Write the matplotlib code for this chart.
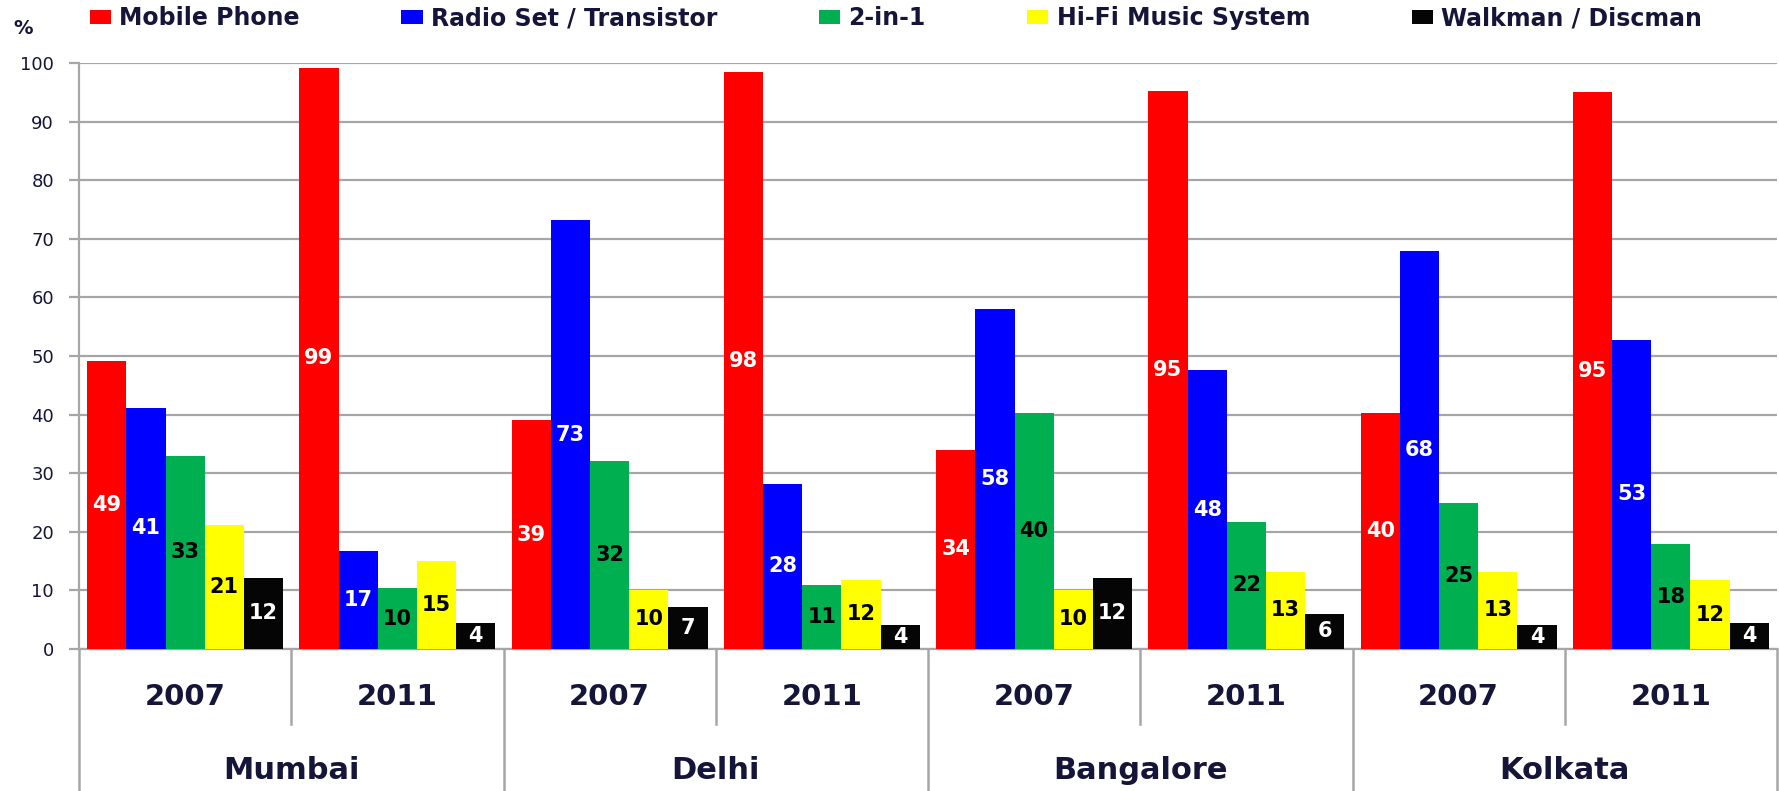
import numpy as np
import matplotlib
matplotlib.use("Agg")
import matplotlib.pyplot as plt
import matplotlib.transforms as mtransforms

# data (%)
cities = ["Mumbai", "Delhi", "Bangalore", "Kolkata"]
years = ["2007", "2011"]
series = ["Mobile Phone", "Radio Set / Transistor", "2-in-1",
          "Hi-Fi Music System", "Walkman / Discman"]
mobile = [49.1, 99.2, 39.0, 98.4, 34.0, 95.3, 40.2, 95.0]
radio = [41.2, 16.7, 73.2, 28.2, 58.1, 47.6, 68.0, 52.8]
two_in_one = [33.0, 10.4, 32.0, 10.9, 40.2, 21.7, 25.0, 17.9]
hifi = [21.2, 15.0, 10.1, 11.8, 10.1, 13.2, 13.2, 11.7]
walkman = [12.2, 4.4, 7.2, 4.1, 12.2, 6.0, 4.1, 4.4]

colors = ["#FF0000", "#0000FF", "#00B050", "#FFFF00", "#050505"]
label_colors = ["white", "white", "black", "black", "white"]
values = [mobile, radio, two_in_one, hifi, walkman]

grid_col = "#A6A6A6"
text_col = "#15153a"

fig = plt.figure(figsize=(17.79, 7.91), dpi=100)
ax = fig.add_axes([79 / 1779, 1 - 649 / 791, (1777 - 79) / 1779, (649 - 63) / 791])

n_groups = len(cities) * len(years)
x = np.arange(n_groups)
w = 0.1847

handles = []
for i, (name, vals) in enumerate(zip(series, values)):
    bars = ax.bar(x + (i - 2) * w, vals, width=w, color=colors[i], label=name,
                  zorder=3, linewidth=0)
    handles.append(bars)
    for b, v in zip(bars, vals):
        ax.text(b.get_x() + b.get_width() / 2, v / 2, f"{v:.0f}",
                ha="center", va="center", fontsize=15, fontweight="bold",
                color=label_colors[i], zorder=4)

ax.set_xlim(-0.5, n_groups - 0.5)
ax.set_ylim(0, 100)
ax.set_yticks(range(0, 101, 10))
ax.yaxis.grid(True, color=grid_col, linewidth=1.6, zorder=0)
ax.set_xticks([])
ax.tick_params(axis="y", length=7, width=1.6, color=grid_col, pad=11,
               labelsize=13, labelcolor=text_col)
for s in ["top", "right"]:
    ax.spines[s].set_visible(False)
ax.spines["left"].set_color(grid_col)
ax.spines["left"].set_linewidth(1.6)
ax.spines["bottom"].set_color(grid_col)
ax.spines["bottom"].set_linewidth(1.6)

# category separators and labels below the axis
trans = mtransforms.blended_transform_factory(ax.transData, ax.transAxes)
for k in range(n_groups + 1):
    bottom = -0.245 if k % 2 == 0 else -0.128
    ax.plot([k - 0.5, k - 0.5], [0, bottom], color=grid_col, linewidth=1.8,
            transform=trans, clip_on=False)
for g in range(n_groups):
    ax.text(g, -0.082, years[g % 2], transform=trans, ha="center", va="center",
            fontsize=21, fontweight="bold", color=text_col)
for c, city in enumerate(cities):
    ax.text(2 * c + 0.5, -0.207, city, transform=trans, ha="center", va="center",
            fontsize=22, fontweight="bold", color=text_col)

fig.text(23 / 1779, 1 - 29 / 791, "%", ha="center", va="center",
         fontsize=14, fontweight="bold", color=text_col)

fig.legend(handles=handles, loc="center left", bbox_to_anchor=(78 / 1779, 1 - 18 / 791),
           ncol=5, frameon=False, borderpad=0, columnspacing=4.3,
           handlelength=0.9, handleheight=0.55, handletextpad=0.35,
           prop={"size": 17, "weight": "bold"}, labelcolor=text_col)

fig.savefig("out.png", dpi=100)
